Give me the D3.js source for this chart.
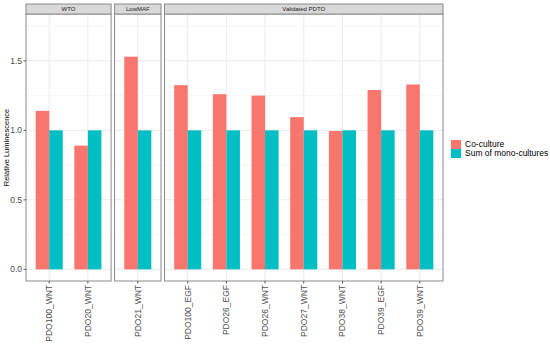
<!DOCTYPE html>
<html>
<head>
<meta charset="utf-8">
<script src="https://cdn.jsdelivr.net/npm/d3@7"></script>
<style>
  html, body { margin: 0; padding: 0; background: #fff; }
  svg text { font-family: "Liberation Sans", Arial, sans-serif; }
</style>
</head>
<body>
<div id="chart"></div>
<script>
// ── Data ──
const groups     = ['WTO', 'LowMAF', 'Validated PDTO'];
const categories = [
  ['PDO100_WNT', 'PDO20_WNT'],
  ['PDO21_WNT'],
  ['PDO100_EGF', 'PDO26_EGF', 'PDO26_WNT', 'PDO27_WNT', 'PDO38_WNT', 'PDO39_EGF', 'PDO39_WNT']
];
const series     = ['Co-culture', 'Sum of mono-cultures'];
const coculture  = [1.14, 0.89, 1.53, 1.325, 1.26, 1.25, 1.095, 0.995, 1.29, 1.33];
const monoSum    = [1.0, 1.0, 1.0, 1.0, 1.0, 1.0, 1.0, 1.0, 1.0, 1.0];
const yTicks     = [0, 0.5, 1.0, 1.5];
const yMinor     = [0.25, 0.75, 1.25, 1.75];
const colors     = ['#F8766D', '#00BFC4'];

(function () {
  'use strict';

  const W = 550, H = 345;
  const plotL = 26, plotR = 443, top = 14, bottom = 281, stripH = 10, gap = 3.5;

  const svg = d3.select('#chart').append('svg')
    .attr('width', W).attr('height', H);

  const y = d3.scaleLinear().domain([-0.084, 1.837]).range([bottom, top]);

  // panel widths proportional to categories + ggplot discrete expansion
  const units = categories.map(c => c.length + 0.2);
  const perUnit = (plotR - plotL - gap * (groups.length - 1)) / d3.sum(units);

  const flat = categories.flat();
  let x0 = plotL, idx = 0;

  groups.forEach((g, gi) => {
    const pw = units[gi] * perUnit;
    const panel = svg.append('g').attr('transform', `translate(${x0},0)`);
    const cats = categories[gi];
    const x = d3.scalePoint().domain(cats).range([0, pw]).padding(0.6);
    const step = x.step();
    const sub = d3.scaleBand().domain(series).range([-0.35 * step, 0.35 * step]);

    // background grid
    panel.append('g').selectAll('line.minor').data(yMinor).join('line')
      .attr('x1', 0).attr('x2', pw)
      .attr('y1', d => y(d)).attr('y2', d => y(d))
      .attr('stroke', '#f2f2f2').attr('stroke-width', 0.6);
    panel.append('g').selectAll('line.major').data(yTicks).join('line')
      .attr('x1', 0).attr('x2', pw)
      .attr('y1', d => y(d)).attr('y2', d => y(d))
      .attr('stroke', '#ebebeb').attr('stroke-width', 1);
    panel.append('g').selectAll('line.vx').data(cats).join('line')
      .attr('x1', d => x(d)).attr('x2', d => x(d))
      .attr('y1', top).attr('y2', bottom)
      .attr('stroke', '#ebebeb').attr('stroke-width', 1);

    // bars
    const rows = cats.map((c, i) => ({ cat: c, vals: [coculture[idx + i], monoSum[idx + i]] }));
    const cg = panel.append('g').selectAll('g').data(rows).join('g')
      .attr('transform', d => `translate(${x(d.cat)},0)`);
    cg.selectAll('rect').data(d => d.vals.map((v, si) => ({ v, si }))).join('rect')
      .attr('x', d => sub(series[d.si]))
      .attr('width', sub.bandwidth())
      .attr('y', d => y(d.v))
      .attr('height', d => y(0) - y(d.v))
      .attr('fill', d => colors[d.si]);

    // border
    panel.append('rect')
      .attr('x', 0).attr('y', top).attr('width', pw).attr('height', bottom - top)
      .attr('fill', 'none').attr('stroke', '#8a8a8a').attr('stroke-width', 1);

    // strip
    panel.append('rect')
      .attr('x', 0).attr('y', top - stripH).attr('width', pw).attr('height', stripH)
      .attr('fill', '#d9d9d9').attr('stroke', '#8a8a8a').attr('stroke-width', 1);
    panel.append('text')
      .attr('x', pw / 2).attr('y', top - stripH / 2).attr('dy', '0.35em')
      .attr('text-anchor', 'middle').attr('font-size', 6).attr('fill', '#1a1a1a')
      .text(g);

    // x ticks + labels
    const xa = panel.append('g').selectAll('g').data(cats).join('g')
      .attr('transform', d => `translate(${x(d)},${bottom})`);
    xa.append('line').attr('y1', 0).attr('y2', 2.5).attr('stroke', '#555');
    xa.append('text')
      .attr('transform', 'translate(3,4) rotate(-90)')
      .attr('text-anchor', 'end')
      .attr('font-size', 8.5).attr('fill', '#4d4d4d')
      .text(d => d);

    idx += cats.length;
    x0 += pw + gap;
  });

  // y axis
  const ya = svg.append('g').selectAll('g').data(yTicks).join('g')
    .attr('transform', d => `translate(${plotL},${y(d)})`);
  ya.append('line').attr('x1', -2.5).attr('x2', 0).attr('stroke', '#555');
  ya.append('text')
    .attr('x', -4).attr('dy', '0.35em').attr('text-anchor', 'end')
    .attr('font-size', 8.5).attr('fill', '#4d4d4d')
    .text(d => d3.format('.1f')(d));

  svg.append('text')
    .attr('transform', `translate(9,${(top + bottom) / 2}) rotate(-90)`)
    .attr('text-anchor', 'middle').attr('font-size', 7.5).attr('fill', '#000')
    .text('Relative Luminescence');

  // legend
  const lg = svg.append('g').attr('transform', 'translate(451,140)');
  const li = lg.selectAll('g').data(series).join('g')
    .attr('transform', (d, i) => `translate(0,${i * 9})`);
  li.append('rect').attr('width', 10).attr('height', 9)
    .attr('fill', (d, i) => colors[i]);
  li.append('text').attr('x', 14).attr('y', 4.5).attr('dy', '0.35em')
    .attr('font-size', 8.5).attr('fill', '#000')
    .text(d => d);
})();
</script>
</body>
</html>
